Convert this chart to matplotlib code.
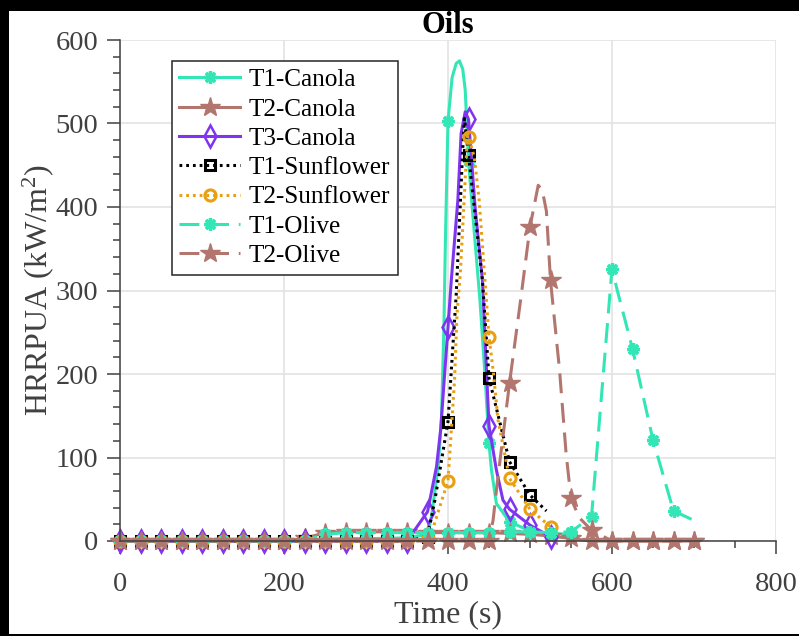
import numpy as np
import matplotlib
matplotlib.use("Agg")
import matplotlib.pyplot as plt
from matplotlib.patches import Rectangle
from matplotlib.ticker import MultipleLocator

plt.rcParams["font.family"] = ["Liberation Serif", "DejaVu Serif"]
plt.rcParams["mathtext.fontset"] = "custom"
plt.rcParams["mathtext.rm"] = "Liberation Serif"
plt.rcParams["mathtext.it"] = "Liberation Serif:italic"

# ---- data: time (s) and heat release rate per unit area (kW/m^2) ----
base_t = list(range(0, 375, 25))

t1_canola_t = base_t + [375, 380, 388, 392, 395, 397, 400, 405, 410, 414, 418, 421, 425,
                        432, 439, 445, 450, 453, 459, 475, 500, 525, 550]
t1_canola_v = [0] * 10 + [2, 3, 3, 3, 4] + [8, 30, 89, 145, 256, 368, 503, 555, 572, 575, 565, 540, 455,
                                            370, 288, 200, 117, 85, 45, 23, 12, 9, 8]

t2_canola_t = list(range(0, 725, 25))
t2_canola_v = [0] * 9 + [3, 10, 11, 11, 11, 11, 10, 10, 10, 10, 9, 8, 6, 3, 0, 0, 0, 0, 0, 0]

t3_canola_t = base_t + [375, 386, 391, 400, 404, 412, 416, 421, 425, 433, 442, 450, 459, 467,
                        475, 500, 525]
t3_canola_v = [0] * 15 + [35, 89, 133, 256, 312, 408, 488, 514, 505, 400, 312, 138, 85, 49,
                          38, 19, 5]

t1_sun_t = base_t + [375, 384, 400, 410, 418, 420, 425, 442, 450, 475, 500, 520]
t1_sun_v = [0] * 15 + [5, 49, 143, 295, 470, 506, 462, 312, 195, 95, 55, 36]

t2_sun_t = base_t + [375, 380, 400, 408, 411, 415, 424, 425, 432, 438, 446, 450, 455, 461,
                     475, 500, 525]
t2_sun_v = [0] * 15 + [3, 10, 72, 193, 272, 320, 490, 484, 460, 408, 300, 244, 205, 145,
                       75, 38, 17]

t1_olive_t = list(range(0, 600, 25)) + [600, 607, 615, 625, 650, 675, 697]
t1_olive_v = [0] * 10 + [8, 10, 10, 10, 10, 10, 10, 10, 10, 11, 11, 10, 11, 29] + \
             [326, 298, 268, 230, 121, 36, 26]

t2_olive_t = list(range(0, 475, 25)) + [455, 460, 475, 489, 500, 510, 515, 520, 525, 536, 544,
                                        550, 560, 575, 600, 625, 650, 675, 700]
t2_olive_v = [0] * 19 + [25, 69, 189, 292, 376, 426, 420, 395, 312, 205, 105,
                         51, 28, 13, 0, 0, 0, 0, 0]
# keep time order (the 455/460 points come after 450)
_order = np.argsort(t2_olive_t, kind="stable")
t2_olive_t = list(np.array(t2_olive_t)[_order])
t2_olive_v = list(np.array(t2_olive_v)[_order])

labels = ["T1-Canola", "T2-Canola", "T3-Canola", "T1-Sunflower", "T2-Sunflower",
          "T1-Olive", "T2-Olive"]

teal = "#33E6B5"
brown = "#B3766E"
purple = "#7F35F0"
orange = "#E9A010"

dash = (6.5, 3.2)
dot = (0.9, 1.3)

series = [
    (t1_canola_t, t1_canola_v, dict(color=teal, ls="-", marker=(8, 2, 0), ms=9, mew=2.4,
                                    mec=teal)),
    (t2_canola_t, t2_canola_v, dict(color=brown, ls="-", marker="*", ms=15, mew=1,
                                    mec=brown, mfc=brown)),
    (t3_canola_t, t3_canola_v, dict(color=purple, ls="-", marker="d", ms=11, mew=1.8,
                                    mec=purple, mfc="none")),
    (t1_sun_t, t1_sun_v, dict(color="black", dashes=dot, marker="s", ms=7, mew=2.2,
                              mec="black", mfc="none")),
    (t2_sun_t, t2_sun_v, dict(color=orange, dashes=dot, marker="o", ms=8, mew=2.2,
                              mec=orange, mfc="none")),
    (t1_olive_t, t1_olive_v, dict(color=teal, dashes=dash, marker=(8, 2, 0), ms=9, mew=2.4,
                                  mec=teal)),
    (t2_olive_t, t2_olive_v, dict(color=brown, dashes=dash, marker="*", ms=15, mew=1,
                                  mec=brown, mfc=brown)),
]

fig = plt.figure(figsize=(7.99, 6.36), dpi=100, facecolor="black")
W, H = 799, 636
fig.patches.append(Rectangle((9 / W, 2 / H), (W - 9) / W, (H - 2 - 11) / H,
                             transform=fig.transFigure, facecolor="white",
                             edgecolor="none", zorder=-10))

ax = fig.add_axes([120 / W, 95 / H, 656 / W, 501 / H])
ax.set_facecolor("white")

for (t, v, st), lab in zip(series, labels):
    t = np.asarray(t, dtype=float)
    v = np.asarray(v, dtype=float)
    every = [i for i, x in enumerate(t) if x % 25 == 0]
    ax.plot(t, v, lw=2.2, markevery=every, label=lab, clip_on=False, **st)

ax.set_xlim(0, 800)
ax.set_ylim(0, 600)
ax.xaxis.set_major_locator(MultipleLocator(200))
ax.xaxis.set_minor_locator(MultipleLocator(50))
ax.yaxis.set_major_locator(MultipleLocator(100))
ax.yaxis.set_minor_locator(MultipleLocator(20))

axis_grey = "#404040"
for side in ("top", "right"):
    ax.spines[side].set_visible(False)
for side in ("left", "bottom"):
    ax.spines[side].set_color(axis_grey)
    ax.spines[side].set_linewidth(1.1)

ax.grid(True, which="major", color="#E3E3E3", lw=1.2)
ax.set_axisbelow(True)
ax.tick_params(which="major", direction="out", length=9.5, width=1.1, color=axis_grey,
               labelsize=20.5, labelcolor=axis_grey)
ax.tick_params(which="minor", direction="out", length=5, width=1.1, color=axis_grey)
ax.tick_params(axis="x", which="major", pad=13)
ax.tick_params(axis="y", which="major", pad=6)

ax.set_xlabel("Time (s)", fontsize=23, color=axis_grey)
ax.set_ylabel("HRRPUA (kW/m$^2$)", fontsize=23, color=axis_grey)
ax.xaxis.set_label_coords(0.5, -0.118)
ax.yaxis.set_label_coords(-0.097, 0.5)
ax.set_title("Oils", fontsize=22, fontweight="bold", color="black", pad=5)

leg = ax.legend(loc="upper left", bbox_to_anchor=(0.079, 0.958), borderaxespad=0,
                fontsize=18.2, handlelength=2.4, handletextpad=0.35, labelspacing=0.26,
                borderpad=0.3, fancybox=False, framealpha=1, edgecolor="#262626")
leg.get_frame().set_linewidth(1.1)

fig.savefig("out.png", dpi=100, facecolor=fig.get_facecolor())
